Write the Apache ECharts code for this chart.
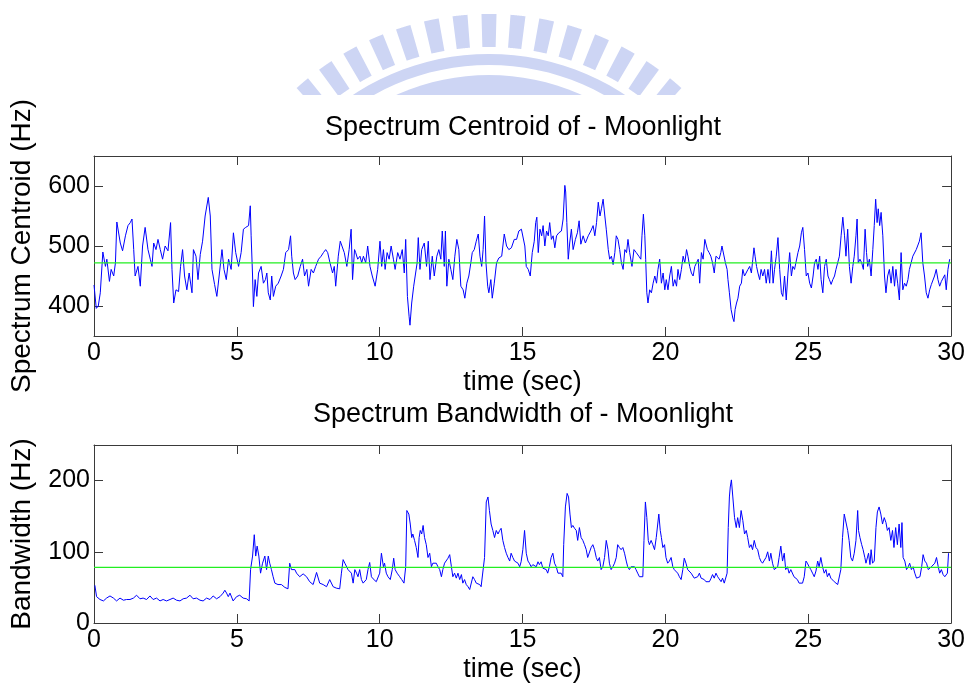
<!DOCTYPE html>
<html>
<head>
<meta charset="utf-8">
<title>Spectrum Centroid / Bandwidth - Moonlight</title>
<script src="https://cdn.jsdelivr.net/npm/echarts@6/dist/echarts.min.js"></script>
<style>
  html, body { margin: 0; padding: 0; background: #fff; }
  #chart { width: 968px; height: 684px; }
</style>
</head>
<body>
<div id="chart"></div>
<script>
// ---- data (time in seconds, values in Hz) ----
const timeRange = [0, 30];
const timeTicks = [0, 5, 10, 15, 20, 25, 30];
const centroidRange = [350, 650];
const centroidTicks = [400, 500, 600];
const bandwidthRange = [0, 250];
const bandwidthTicks = [0, 100, 200];
const meanCentroid = 472;
const meanBandwidth = 78;

const centroidPoints = [
  [0,435],[0.08,396],[0.15,400],[0.22,422],[0.31,490],[0.4,466],[0.45,478],[0.54,441],[0.6,461],[0.69,450],
  [0.75,472],[0.8,540],[0.86,542],[0.92,505],[1.0,492],[1.1,517],[1.19,534],[1.27,539],[1.33,545],[1.39,494],
  [1.44,450],[1.54,466],[1.62,433],[1.7,500],[1.79,531],[1.89,494],[1.97,478],[2.03,466],[2.09,505],[2.17,494],
  [2.24,511],[2.32,494],[2.4,478],[2.49,500],[2.59,492],[2.68,539],[2.73,461],[2.79,405],[2.87,427],[2.96,424],
  [3.03,466],[3.1,494],[3.17,450],[3.25,427],[3.33,455],[3.43,422],[3.48,494],[3.57,483],[3.64,444],[3.72,486],
  [3.8,508],[3.89,550],[4.0,581],[4.07,550],[4.13,461],[4.22,436],[4.3,416],[4.38,450],[4.48,494],[4.55,461],
  [4.63,444],[4.71,478],[4.8,461],[4.88,522],[4.96,489],[5.06,466],[5.15,489],[5.23,528],[5.31,531],[5.41,534],
  [5.47,567],[5.5,517],[5.55,450],[5.58,399],[5.64,444],[5.7,416],[5.76,455],[5.85,466],[5.93,438],
  [6.0,444],[6.05,455],[6.1,422],[6.17,410],[6.22,450],[6.28,416],[6.36,433],[6.45,438],[6.55,450],[6.63,461],
  [6.71,489],[6.81,494],[6.88,517],[6.92,483],[6.98,455],[7.04,444],[7.13,450],[7.22,466],[7.3,478],[7.37,450],
  [7.45,461],[7.51,433],[7.6,461],[7.68,455],[7.76,466],[7.86,478],[7.95,483],[8.03,489],[8.11,494],[8.18,489],
  [8.26,472],[8.35,455],[8.41,466],[8.46,433],[8.55,483],[8.62,508],[8.69,511],[8.76,489],[8.85,466],[8.93,494],
  [9.0,528],[9.05,444],[9.12,494],[9.16,489],[9.23,478],[9.31,483],[9.37,472],[9.43,483],[9.51,472],[9.58,500],
  [9.66,466],[9.74,450],[9.84,433],[9.93,461],[10.01,508],[10.07,466],[10.13,494],[10.19,461],[10.26,489],[10.33,478],
  [10.4,500],[10.48,478],[10.54,461],[10.63,489],[10.71,478],[10.79,494],[10.86,455],[10.91,511],[10.97,416],[11.03,382],
  [11.06,368],[11.12,405],[11.19,433],[11.26,436],[11.31,472],[11.35,514],[11.41,461],[11.47,494],[11.56,505],[11.64,466],
  [11.7,508],[11.76,444],[11.84,483],[11.91,450],
  [12.0,483],[12.07,494],[12.14,478],[12.19,525],[12.26,466],[12.3,525],[12.35,433],[12.42,478],[12.49,461],[12.56,444],
  [12.63,483],[12.7,511],[12.77,494],[12.84,433],[12.92,427],[12.98,413],[13.05,438],[13.12,450],[13.19,472],[13.24,489],
  [13.31,494],[13.38,508],[13.45,520],[13.51,483],[13.57,466],[13.62,494],[13.67,550],[13.72,472],[13.78,433],[13.82,422],
  [13.89,444],[13.94,413],[14.01,438],[14.09,472],[14.17,480],[14.27,483],[14.36,520],[14.44,500],[14.52,494],[14.61,497],
  [14.71,511],[14.79,511],[14.87,525],[14.96,528],[15.03,531],[15.08,500],[15.13,466],[15.2,461],[15.27,450],[15.34,489],
  [15.41,508],[15.46,539],[15.5,548],[15.55,489],[15.61,528],[15.67,517],[15.72,534],[15.78,500],[15.84,525],[15.9,517],
  [15.95,539],[16.01,511],[16.07,517],[16.13,497],[16.19,517],[16.27,522],[16.36,525],[16.42,545],[16.48,601],[16.51,590],
  [16.55,539],[16.6,478],[16.65,505],[16.71,528],[16.77,494],[16.85,511],[16.92,522],[16.98,542],[17.04,503],[17.12,517],
  [17.2,505],[17.3,517],[17.39,525],[17.47,534],[17.53,517],[17.59,539],[17.65,573],[17.71,550],[17.76,562],[17.82,578],
  [17.88,550],[17.93,528],
  [18.0,494],[18.05,478],[18.11,483],[18.17,469],[18.23,489],[18.28,517],[18.34,511],[18.4,494],[18.46,472],[18.52,461],
  [18.58,494],[18.64,489],[18.69,511],[18.75,489],[18.83,466],[18.9,494],[18.98,489],[19.07,483],[19.14,478],[19.18,517],
  [19.23,553],[19.28,517],[19.31,478],[19.35,422],[19.39,405],[19.45,427],[19.51,422],[19.57,438],[19.63,450],[19.69,438],
  [19.74,461],[19.8,478],[19.86,438],[19.92,455],[19.98,427],[20.03,444],[20.09,427],[20.15,450],[20.21,466],[20.27,433],
  [20.33,444],[20.39,433],[20.44,461],[20.5,444],[20.56,461],[20.62,483],[20.68,472],[20.74,494],[20.79,483],[20.85,466],
  [20.91,455],[20.97,450],[21.03,466],[21.09,472],[21.15,478],[21.2,438],[21.26,489],[21.32,478],[21.38,511],[21.41,514],
  [21.47,494],[21.53,489],[21.59,483],[21.65,472],[21.71,455],[21.77,483],[21.82,480],[21.88,478],[21.94,489],[21.98,500],
  [22.04,503],[22.1,472],[22.16,461],[22.19,444],[22.24,422],[22.3,394],[22.36,380],[22.4,374],[22.44,394],[22.49,405],
  [22.54,413],[22.6,433],[22.66,438],[22.71,461],[22.77,450],[22.83,447],[22.89,461],[22.95,466],[23.01,455],[23.06,478],
  [23.1,497],[23.14,483],[23.19,466],[23.24,455],[23.3,444],[23.35,461],[23.41,450],[23.47,461],[23.53,438],[23.59,461],
  [23.65,438],
  [23.71,492],[23.77,438],[23.82,461],[23.88,483],[23.94,514],[24.0,461],[24.06,422],[24.11,416],[24.17,450],[24.23,410],
  [24.29,455],[24.35,489],[24.41,450],[24.46,466],[24.52,461],[24.58,461],[24.64,489],[24.7,500],[24.76,522],[24.81,531],
  [24.87,494],[24.93,450],[24.99,455],[25.05,438],[25.11,430],[25.17,450],[25.22,472],[25.28,478],[25.34,461],[25.4,483],
  [25.45,444],[25.51,422],[25.57,466],[25.63,478],[25.69,450],[25.74,444],[25.8,436],[25.86,444],[25.92,450],[25.97,461],
  [26.03,472],[26.09,483],[26.15,517],[26.21,548],[26.27,517],[26.32,483],[26.38,528],[26.44,466],[26.5,438],[26.56,466],
  [26.61,483],[26.67,517],[26.71,545],[26.75,472],[26.81,478],[26.87,472],[26.93,461],[26.99,528],[27.04,489],[27.08,466],
  [27.14,478],[27.2,450],[27.26,494],[27.31,534],[27.36,578],[27.41,539],[27.45,562],[27.5,534],[27.55,556],[27.61,517],
  [27.67,450],[27.72,422],[27.78,450],[27.84,461],[27.9,438],[27.96,466],[28.02,433],[28.07,461],[28.13,438],[28.19,410],
  [28.25,489],[28.31,427],[28.37,438],[28.43,433],[28.49,444],[28.54,461],[28.6,472],[28.66,483],[28.72,480],[28.78,494],
  [28.84,492],[28.89,508],[28.95,522],[29.01,472],[29.07,450],[29.13,422],[29.19,413],[29.25,427],[29.31,436],[29.37,438],
  [29.42,450],[29.48,461],[29.54,444],[29.6,433],[29.66,441],[29.72,438],[29.78,452],[29.83,427],[29.89,461],[29.95,478]
];

const bandwidthPoints = [
  [0.03,53],[0.09,37],[0.21,33],[0.33,31],[0.44,35],[0.56,38],[0.68,35],[0.79,31],[0.91,35],[1.03,32],
  [1.14,33],[1.26,33],[1.38,35],[1.49,39],[1.61,34],[1.72,35],[1.84,33],[1.96,38],[2.07,33],[2.19,35],
  [2.31,31],[2.42,33],[2.54,31],[2.66,33],[2.77,35],[2.89,32],[3.01,31],[3.12,34],[3.24,35],[3.36,39],
  [3.47,34],[3.59,35],[3.71,32],[3.82,31],[3.94,35],[4.06,33],[4.17,38],[4.29,34],[4.41,37],[4.52,42],
  [4.58,46],[4.64,42],[4.7,37],[4.76,42],[4.87,31],[4.99,37],[5.1,39],[5.22,35],[5.34,34],[5.43,31],
  [5.48,75],[5.55,94],[5.61,124],[5.66,94],[5.71,108],[5.77,94],[5.83,70],[5.9,84],[5.98,94],[6.04,75],
  [6.1,94],[6.15,84],[6.21,75],[6.27,65],[6.33,56],[6.44,54],[6.56,54],[6.68,50],[6.79,48],[6.85,84],
  [6.91,75],[6.97,73],[7.03,75],[7.09,70],[7.2,65],[7.32,69],[7.44,65],[7.55,58],[7.67,54],[7.79,71],
  [7.9,56],[8.02,54],[8.14,51],[8.25,61],[8.37,51],[8.48,49],[8.6,48],[8.66,70],[8.72,89],[8.78,84],
  [8.83,80],[8.89,75],[8.95,77],[9.01,70],[9.07,56],[9.13,75],[9.19,70],[9.24,65],[9.3,75],[9.36,61],
  [9.42,56],[9.48,54],[9.53,61],[9.59,75],[9.65,85],[9.71,65],[9.77,62],[9.88,58],[9.94,58],[10.0,70],
  [10.06,98],[10.13,79],[10.17,84],[10.23,70],[10.29,65],[10.37,61],[10.44,75],[10.49,91],[10.54,75],[10.61,70],
  [10.7,65],[10.77,61],[10.85,56],[10.91,79],[10.95,158],[11.02,153],[11.07,139],[11.12,120],[11.16,125],[11.22,116],
  [11.28,106],[11.34,92],[11.38,120],[11.42,130],[11.47,125],[11.52,137],[11.57,120],[11.63,110],[11.69,92],[11.75,98],
  [11.81,79],[11.86,84],[11.92,82],[11.98,84],[12.04,79],[12.1,75],[12.16,65],[12.21,75],[12.27,84],[12.33,86],
  [12.39,91],[12.45,96],[12.51,79],[12.56,65],[12.62,70],[12.68,63],[12.74,70],[12.8,61],[12.86,68],[12.91,56],
  [12.97,61],[13.03,54],[13.09,51],[13.15,47],[13.2,49],[13.26,65],[13.32,61],[13.38,56],[13.44,58],[13.5,54],
  [13.55,51],[13.61,49],[13.67,92],[13.73,170],[13.79,177],[13.84,158],[13.9,139],[13.96,130],[14.02,120],[14.08,130],
  [14.14,125],[14.2,130],[14.25,133],[14.31,116],[14.37,106],[14.43,98],[14.49,92],[14.55,87],[14.6,98],[14.66,92],
  [14.72,87],[14.78,86],[14.84,84],[14.9,79],[14.95,86],[15.01,103],[15.07,130],[15.13,98],[15.19,87],[15.24,84],
  [15.3,79],[15.36,82],[15.42,84],[15.48,79],[15.54,86],[15.59,82],[15.65,86],[15.71,77],[15.77,79],[15.83,75],
  [15.88,70],[15.94,79],[16.0,92],[16.06,98],[16.12,84],[16.18,79],[16.24,70],[16.29,68],[16.35,70],[16.41,65],
  [16.44,110],[16.5,163],[16.56,182],[16.61,177],[16.66,153],[16.71,134],[16.76,137],[16.82,133],[16.88,130],[16.93,116],
  [16.99,134],[17.05,120],[17.11,116],[17.17,110],[17.23,103],[17.28,92],[17.34,91],[17.4,106],[17.46,110],[17.52,103],
  [17.58,92],[17.63,87],[17.69,92],[17.75,75],[17.81,79],[17.87,92],[17.93,116],[17.99,103],[18.04,84],[18.1,75],
  [18.16,79],[18.22,84],[18.28,92],[18.33,110],[18.39,106],[18.45,103],[18.51,106],[18.57,98],[18.63,87],[18.68,79],
  [18.74,75],[18.8,79],[18.86,77],[18.92,79],[18.97,75],[19.03,70],[19.09,65],[19.15,63],[19.21,65],[19.25,116],
  [19.3,170],[19.35,148],[19.4,116],[19.44,110],[19.5,116],[19.56,110],[19.62,103],[19.68,120],[19.77,153],[19.82,130],
  [19.86,120],[19.91,106],[19.97,110],[20.02,92],[20.08,84],[20.14,87],[20.2,92],[20.26,79],[20.31,75],[20.37,77],
  [20.43,70],[20.49,65],[20.55,61],[20.61,75],[20.66,91],[20.72,84],[20.78,75],[20.84,73],[20.9,70],[20.96,68],
  [21.01,63],[21.07,61],[21.13,65],[21.19,70],[21.25,63],[21.31,65],[21.36,61],[21.42,58],[21.48,56],[21.54,58],
  [21.6,63],[21.65,68],[21.71,63],[21.77,70],[21.83,65],[21.89,63],[21.95,58],[22.0,63],[22.06,56],[22.12,54],
  [22.16,70],[22.2,134],[22.24,177],[22.27,191],[22.31,201],[22.36,177],[22.42,148],[22.48,134],[22.53,148],[22.59,134],
  [22.65,158],[22.71,144],[22.77,125],[22.83,130],[22.88,120],[22.94,106],[23.0,110],[23.05,103],[23.11,116],[23.17,106],
  [23.23,103],[23.29,92],[23.34,87],[23.4,84],[23.46,82],[23.52,92],[23.58,100],[23.64,87],[23.69,98],[23.75,84],
  [23.81,75],[23.87,73],[23.93,79],[23.98,92],[24.04,108],[24.1,87],[24.16,98],[24.21,75],[24.27,79],[24.33,70],
  [24.39,75],[24.45,73],[24.5,65],[24.56,63],[24.62,61],[24.68,56],[24.74,55],[24.8,56],[24.86,65],[24.92,87],
  [24.97,84],[25.03,79],[25.09,75],[25.15,70],[25.21,65],[25.27,73],[25.33,87],[25.38,79],[25.44,92],[25.5,79],
  [25.56,70],[25.62,75],[25.67,65],[25.73,70],[25.79,63],[25.85,65],[25.91,58],[25.97,56],[26.03,54],[26.09,56],
  [26.14,75],[26.2,120],[26.26,153],[26.32,155],[26.38,130],[26.43,116],[26.49,92],[26.55,87],[26.61,98],[26.67,116],
  [26.73,158],[26.76,130],[26.81,120],[26.87,110],[26.92,103],[26.98,92],[27.02,84],[27.08,82],[27.11,98],[27.16,82],
  [27.2,103],[27.25,84],[27.31,87],[27.37,134],[27.42,156],[27.48,163],[27.54,153],[27.6,139],[27.66,148],[27.72,141],
  [27.77,130],[27.83,134],[27.89,116],[27.95,130],[28.0,106],[28.06,134],[28.12,110],[28.18,139],[28.24,106],[28.28,141],
  [28.32,92],[28.38,87],[28.44,75],[28.5,79],[28.55,84],[28.61,75],[28.67,79],[28.73,70],[28.79,63],[28.85,61],
  [28.91,65],[28.97,79],[29.02,96],[29.08,87],[29.14,84],[29.2,75],[29.26,73],[29.31,79],[29.37,77],[29.43,84],
  [29.49,92],[29.55,79],[29.6,70],[29.66,75],[29.72,68],[29.78,65],[29.84,63],[29.87,70],[29.91,98]
];

// ---- styling ----
const FONT = '"Liberation Sans", Arial, Helvetica, sans-serif';
const AXIS_COLOR = '#3a3a3a';
const TEXT_COLOR = '#000';
const LINE_BLUE = '#0000ff';
const LINE_GREEN = '#22ee22';
const LOGO_COLOR = '#cdd5f4';

const grids = [
  { left: 94, top: 156, width: 858, height: 180 },
  { left: 94, top: 445, width: 858, height: 178 }
];

function boxAxis(kind, gridIndex, position, range, ticks, opts) {
  const showLabel = !!(opts && opts.labels);
  const ax = {
    type: 'value',
    gridIndex: gridIndex,
    position: position,
    min: range[0],
    max: range[1],
    splitLine: { show: false },
    axisLine: { show: true, onZero: false, lineStyle: { color: AXIS_COLOR, width: 1 } },
    axisTick: { show: true, inside: true, length: 9, customValues: ticks,
                lineStyle: { color: AXIS_COLOR, width: 1 } },
    axisLabel: { show: showLabel, customValues: ticks, color: TEXT_COLOR,
                 fontFamily: FONT, fontSize: 25, margin: kind === 'x' ? 5 : 4,
                 showMinLabel: true, showMaxLabel: true },
    silent: true
  };
  if (opts && opts.name) {
    ax.name = opts.name;
    ax.nameLocation = 'middle';
    ax.nameGap = opts.nameGap;
    ax.nameTextStyle = { color: TEXT_COLOR, fontFamily: FONT, fontSize: opts.nameSize };
  }
  return ax;
}

// Striped semicircular emblem in the page header, cut off along a horizontal line.
function clipAbove(points, clipY) {
  // keep the part of a closed polygon with y <= clipY
  const out = [];
  for (let i = 0; i < points.length; i++) {
    const p = points[i];
    const q = points[(i + 1) % points.length];
    const pIn = p[1] <= clipY, qIn = q[1] <= clipY;
    if (pIn) out.push(p);
    if (pIn !== qIn) {
      const t = (clipY - p[1]) / (q[1] - p[1]);
      out.push([p[0] + t * (q[0] - p[0]), clipY]);
    }
  }
  return out;
}

function ringPolygon(cx, cy, r0, r1, a0, a1, clipY) {
  const pts = [];
  const n = 48;
  for (let i = 0; i <= n; i++) {
    const a = (a0 + (a1 - a0) * i / n) * Math.PI / 180;
    pts.push([cx + r1 * Math.sin(a), cy - r1 * Math.cos(a)]);
  }
  for (let i = n; i >= 0; i--) {
    const a = (a0 + (a1 - a0) * i / n) * Math.PI / 180;
    pts.push([cx + r0 * Math.sin(a), cy - r0 * Math.cos(a)]);
  }
  return clipAbove(pts, clipY);
}

function emblem() {
  const cx = 489, cy = 301, clipY = 95;
  const els = [];
  const add = (pts) => {
    if (pts.length > 2) {
      els.push({ type: 'polygon', silent: true, z: 0,
        shape: { points: pts }, style: { fill: LOGO_COLOR } });
    }
  };
  for (let k = -7; k <= 7; k++) {
    const a = k * 5.8;
    add(ringPolygon(cx, cy, 254, 287, a - 1.5, a + 1.5, clipY));
  }
  add(ringPolygon(cx, cy, 236, 247, -70, 70, clipY));
  add(ringPolygon(cx, cy, 120, 226, -70, 70, clipY));
  return els;
}

function titleText(text, y) {
  return { type: 'text', x: 523, y: y, silent: true, z: 10,
    style: { text: text, fill: TEXT_COLOR, font: '27px ' + FONT,
             align: 'center', verticalAlign: 'middle',
             textAlign: 'center', textVerticalAlign: 'middle' } };
}

const chart = echarts.init(document.getElementById('chart'), null, { renderer: 'canvas' });

chart.setOption({
  backgroundColor: '#ffffff',
  animation: false,
  textStyle: { fontFamily: FONT },
  grid: grids,
  xAxis: [
    boxAxis('x', 0, 'bottom', timeRange, timeTicks, { labels: true, name: 'time (sec)', nameGap: 33, nameSize: 27 }),
    boxAxis('x', 0, 'top', timeRange, timeTicks),
    boxAxis('x', 1, 'bottom', timeRange, timeTicks, { labels: true, name: 'time (sec)', nameGap: 33, nameSize: 27 }),
    boxAxis('x', 1, 'top', timeRange, timeTicks)
  ],
  yAxis: [
    boxAxis('y', 0, 'left', centroidRange, centroidTicks, { labels: true, name: 'Spectrum Centroid (Hz)', nameGap: 58, nameSize: 28 }),
    boxAxis('y', 0, 'right', centroidRange, centroidTicks),
    boxAxis('y', 1, 'left', bandwidthRange, bandwidthTicks, { labels: true, name: 'Bandwidth (Hz)', nameGap: 58, nameSize: 28 }),
    boxAxis('y', 1, 'right', bandwidthRange, bandwidthTicks)
  ],
  graphic: emblem().concat([
    titleText('Spectrum Centroid of - Moonlight', 128),
    titleText('Spectrum Bandwidth of - Moonlight', 415)
  ]),
  series: [
    { name: 'Spectrum Centroid', type: 'line', xAxisIndex: 0, yAxisIndex: 0,
      data: centroidPoints, showSymbol: false, symbol: 'none', silent: true,
      lineStyle: { color: LINE_BLUE, width: 1 }, z: 3 },
    { name: 'Centroid mean', type: 'line', xAxisIndex: 0, yAxisIndex: 0,
      data: [[timeRange[0], meanCentroid], [timeRange[1], meanCentroid]],
      showSymbol: false, symbol: 'none', silent: true,
      lineStyle: { color: LINE_GREEN, width: 1.2 }, z: 4 },
    { name: 'Bandwidth', type: 'line', xAxisIndex: 2, yAxisIndex: 2,
      data: bandwidthPoints, showSymbol: false, symbol: 'none', silent: true,
      lineStyle: { color: LINE_BLUE, width: 1 }, z: 3 },
    { name: 'Bandwidth mean', type: 'line', xAxisIndex: 2, yAxisIndex: 2,
      data: [[timeRange[0], meanBandwidth], [timeRange[1], meanBandwidth]],
      showSymbol: false, symbol: 'none', silent: true,
      lineStyle: { color: LINE_GREEN, width: 1.2 }, z: 4 }
  ]
});
</script>
</body>
</html>
